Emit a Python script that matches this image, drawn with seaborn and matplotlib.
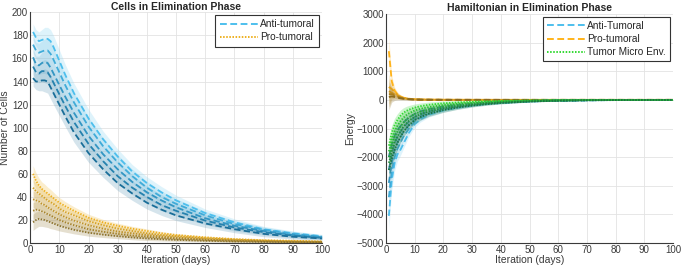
import numpy as np
import pandas as pd
import matplotlib
matplotlib.use("Agg")
import matplotlib.pyplot as plt
import seaborn as sns
from matplotlib.lines import Line2D

# ---- data ----
days = [1, 2, 3, 4, 5, 6, 7, 8, 10, 12, 15, 20, 25, 30, 35, 40, 45, 50, 60, 70, 80, 90, 100]

anti_cells = [
    [183, 178, 175, 176, 177, 177, 175, 170, 158, 146, 130, 108, 90, 75, 62, 52, 44, 37, 26, 18, 12, 8.5, 6],
    [172, 167, 165, 166, 167, 167, 164, 159, 148, 137, 122, 101, 84, 70, 58, 48, 40, 34, 24, 16.5, 11.5, 8, 5.5],
    [161, 155, 154, 156, 157, 156, 152, 147, 137, 127, 113, 93, 77, 64, 53, 44, 37, 31, 21.5, 15, 10.5, 7, 5],
    [153, 148, 147, 149, 149, 148, 144, 139, 129, 119, 105, 86, 71, 58, 48, 40, 33, 28, 19.5, 13.5, 9.5, 6.5, 4.5],
    [143, 140, 140, 141, 141, 140, 135, 130, 120, 110, 96, 78, 64, 52, 43, 35, 29, 24, 17, 12, 8, 5.5, 4],
]
anti_cells_spread = [7, 7, 8, 9, 10, 10, 10, 10, 9.5, 9, 8.5, 8, 7, 6.5, 6, 5.5, 5, 4.5, 3.5, 3, 2.5, 2, 1.5]

pro_cells = [
    [60, 54, 50, 47, 45, 43, 41, 39, 35, 32, 28, 22, 18, 15, 12.5, 10.5, 8.5, 7, 5, 3.5, 2.5, 2, 1.5],
    [48, 45, 43, 41, 39, 37, 35.5, 34, 30, 27, 24, 19, 15.5, 12.5, 10.5, 8.5, 7, 6, 4.2, 3, 2.2, 1.6, 1.2],
    [38, 37, 36, 34, 33, 31, 29.5, 28, 25, 22.5, 19.5, 15.5, 12.5, 10, 8.5, 7, 5.8, 4.8, 3.4, 2.4, 1.8, 1.3, 1.0],
    [28, 29, 28.5, 27.5, 26.5, 25, 24, 22.5, 20, 18, 15.5, 12, 9.8, 8, 6.5, 5.5, 4.5, 3.8, 2.7, 1.9, 1.4, 1.0, 0.8],
    [18, 20, 21, 20.5, 20, 19, 18, 17, 15, 13.5, 11.5, 9, 7.3, 6, 4.9, 4, 3.3, 2.8, 2, 1.4, 1, 0.8, 0.6],
]
pro_cells_spread = [7, 7, 6.5, 6, 6, 5.5, 5.5, 5, 4.5, 4, 3.5, 3, 2.5, 2.2, 2, 1.8, 1.5, 1.3, 1.1, 0.9, 0.8, 0.7, 0.6]

days_h = [1, 2, 3, 4, 5, 6, 7, 8, 10, 12, 15, 20, 25, 30, 35, 40, 50, 60, 70, 80, 90, 100]

anti_energy = [
    [-4050, -2800, -2200, -1900, -1750, -1550, -1350, -1150, -850, -680, -520, -370, -275, -205, -150, -112, -58, -30, -15, -8, -4, -2],
    [-3400, -2500, -2000, -1700, -1500, -1300, -1150, -1000, -760, -620, -480, -340, -255, -190, -140, -102, -53, -27, -14, -7, -3.5, -2],
    [-2900, -2200, -1750, -1480, -1300, -1130, -1000, -880, -680, -560, -440, -310, -230, -170, -125, -92, -48, -24, -12, -6, -3, -1.5],
    [-2450, -1900, -1500, -1280, -1120, -980, -860, -760, -600, -490, -390, -280, -205, -150, -110, -80, -42, -21, -11, -5, -2.5, -1.2],
    [-2000, -1550, -1250, -1050, -920, -800, -700, -620, -490, -400, -320, -230, -170, -125, -90, -65, -34, -17, -9, -4, -2, -1],
]
anti_energy_spread = [450, 350, 280, 230, 200, 170, 150, 130, 110, 95, 80, 65, 50, 40, 30, 25, 15, 10, 6, 4, 3, 2]

pro_energy = [
    [1700, 650, 320, 190, 120, 80, 55, 40, 22, 14, 8, 4, 2.5, 1.5, 1, 0.7, 0.3, 0.2, 0.1, 0.05, 0.03, 0.02],
    [450, 380, 260, 170, 110, 75, 52, 37, 20, 12, 7, 3.5, 2, 1.3, 0.9, 0.6, 0.3, 0.15, 0.1, 0.05, 0.03, 0.02],
    [300, 250, 190, 130, 90, 62, 44, 31, 17, 10, 6, 3, 1.8, 1.1, 0.8, 0.5, 0.25, 0.12, 0.08, 0.04, 0.02, 0.01],
    [200, 200, 150, 105, 72, 50, 36, 26, 14, 8, 5, 2.5, 1.5, 1, 0.6, 0.4, 0.2, 0.1, 0.06, 0.03, 0.02, 0.01],
    [100, 120, 100, 75, 55, 40, 29, 21, 11, 7, 4, 2, 1.2, 0.8, 0.5, 0.3, 0.15, 0.08, 0.05, 0.03, 0.01, 0.01],
]
pro_energy_spread = [450, 200, 120, 80, 60, 45, 35, 28, 20, 15, 12, 10, 8, 7, 6, 5, 4, 3, 3, 2, 2, 2]

tme_energy = [
    [-1600, -1150, -880, -700, -560, -460, -390, -340, -270, -220, -170, -120, -90, -65, -48, -34, -18, -9, -5, -3, -2, -1],
    [-1800, -1400, -1100, -900, -750, -630, -540, -470, -370, -310, -250, -180, -135, -100, -75, -55, -30, -15, -8, -4, -2, -1],
    [-2000, -1600, -1300, -1100, -940, -800, -700, -610, -490, -410, -330, -240, -180, -135, -100, -75, -40, -20, -10, -5, -3, -1.5],
    [-2200, -1800, -1500, -1280, -1100, -950, -830, -730, -590, -500, -400, -295, -225, -170, -125, -92, -50, -25, -13, -6, -3, -1.5],
    [-2450, -2050, -1750, -1500, -1300, -1130, -1000, -880, -710, -600, -480, -355, -265, -200, -150, -110, -58, -30, -15, -8, -4, -2],
]
tme_energy_spread = [280, 260, 240, 220, 200, 180, 160, 145, 125, 110, 95, 80, 65, 50, 40, 32, 20, 12, 7, 4, 3, 2]


def shades(light, dark, n=5):
    light, dark = np.array(light), np.array(dark)
    return [tuple(light + (dark - light) * i / (n - 1)) for i in range(n)]


def lighten(col, f):
    return tuple(np.array(col) + (1 - np.array(col)) * f)


blue = shades((0.30, 0.75, 0.93), (0.10, 0.43, 0.60))
yellow = shades((0.93, 0.69, 0.13), (0.55, 0.45, 0.18))
orange = shades((1.00, 0.70, 0.10), (0.55, 0.42, 0.12))
green = shades((0.20, 0.85, 0.20), (0.10, 0.45, 0.25))

sns.set_theme(style="whitegrid")
plt.rcParams['font.family'] = ['Liberation Sans', 'DejaVu Sans']
plt.rcParams.update({
    'font.size': 7, 'axes.labelsize': 7.5, 'xtick.labelsize': 7, 'ytick.labelsize': 7,
    'grid.color': '#e3e3e3', 'grid.linewidth': 0.6,
    'axes.edgecolor': '#3a3a3a', 'xtick.color': '#3a3a3a', 'ytick.color': '#3a3a3a',
    'axes.labelcolor': '#3a3a3a', 'xtick.direction': 'in', 'ytick.direction': 'in',
})

fig = plt.figure(figsize=(6.85, 2.68), dpi=100)
ax1 = fig.add_axes([0.044, 0.093, 0.426, 0.861])
ax2 = fig.add_axes([0.5635, 0.093, 0.419, 0.855])

DASH = (3.5, 1.8)
DOT = (0.8, 0.8)


def draw_family(ax, x, curves, spread, colors, dashes, lw=1.3, alpha=0.3, light=0.3, z=2):
    x = np.array(x)
    sp = np.array(spread)
    for c, col in zip(curves, colors):
        y = np.array(c)
        ax.fill_between(x, y - sp, y + sp, color=lighten(col, light), alpha=alpha, lw=0, zorder=z)
    for c, col in zip(curves, colors):
        df = pd.DataFrame({'day': x, 'value': c})
        sns.lineplot(data=df, x='day', y='value', ax=ax, color=col, lw=lw, zorder=z + 0.5)
        ax.lines[-1].set_dashes(dashes)


draw_family(ax1, days, anti_cells, anti_cells_spread, blue, DASH, alpha=0.28, light=0.35)
draw_family(ax1, days, pro_cells, pro_cells_spread, yellow, DOT, alpha=0.3, light=0.25)

draw_family(ax2, days_h, pro_energy, pro_energy_spread, orange, DASH, alpha=0.3, light=0.2)
draw_family(ax2, days_h, anti_energy, anti_energy_spread, blue, DASH, alpha=0.25, light=0.3)
draw_family(ax2, days_h, tme_energy, tme_energy_spread, green, DOT, alpha=0.3, light=0.2, z=3)

for ax in (ax1, ax2):
    ax.set_xlim(0, 100)
    ax.set_xticks(range(0, 101, 10))
    ax.set_xlabel('Iteration (days)', labelpad=0)
    for s in ('top', 'right'):
        ax.spines[s].set_visible(False)
    for s in ('left', 'bottom'):
        ax.spines[s].set_linewidth(0.8)
        ax.spines[s].set_zorder(5)
    ax.tick_params(length=2, width=0.6, pad=1.5)
    ax.grid(True)

ax1.set_ylim(0, 200)
ax1.set_yticks(range(0, 201, 20))
ax1.set_ylabel('Number of Cells', labelpad=1)
ax1.set_title('Cells in Elimination Phase', fontsize=7.5, fontweight='bold', pad=2)

ax2.set_ylim(-5000, 3000)
ax2.set_yticks(range(-5000, 3001, 1000))
ax2.set_ylabel('Energy', labelpad=1)
ax2.set_title('Hamiltonian in Elimination Phase', fontsize=7.5, fontweight='bold', pad=2)

leg_kw = dict(loc='upper right', fancybox=False, framealpha=1, edgecolor='#333333',
              handlelength=3.8, fontsize=7.3, borderpad=0.4, labelspacing=0.3,
              handletextpad=0.2, borderaxespad=0.3)

h1 = [Line2D([], [], color=blue[0], lw=1.4, dashes=DASH),
      Line2D([], [], color=yellow[0], lw=1.4, dashes=DOT)]
l1 = ax1.legend(h1, ['Anti-tumoral', 'Pro-tumoral'], **leg_kw)
l1.get_frame().set_linewidth(0.8)
l1.set_zorder(10)

h2 = [Line2D([], [], color=blue[0], lw=1.4, dashes=DASH),
      Line2D([], [], color=orange[0], lw=1.4, dashes=DASH),
      Line2D([], [], color=green[0], lw=1.4, dashes=DOT)]
l2 = ax2.legend(h2, ['Anti-Tumoral', 'Pro-tumoral', 'Tumor Micro Env.'], **leg_kw)
l2.get_frame().set_linewidth(0.8)
l2.set_zorder(10)

fig.savefig('out.png', dpi=100)
